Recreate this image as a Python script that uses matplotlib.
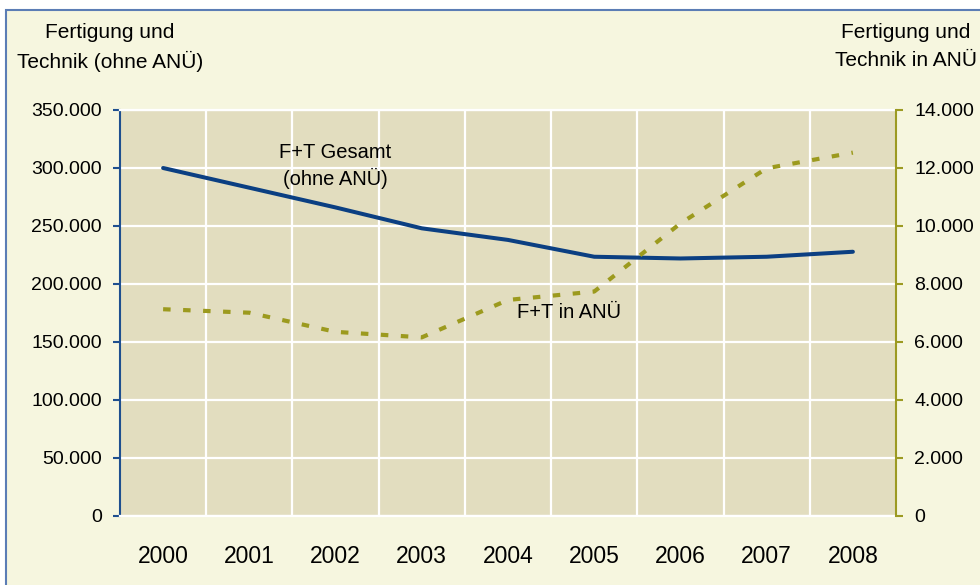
import matplotlib
matplotlib.use("Agg")
import matplotlib.pyplot as plt
from matplotlib.patches import Rectangle
from matplotlib.ticker import FuncFormatter, MultipleLocator
import numpy as np

plt.rcParams['font.family'] = ['Liberation Sans', 'DejaVu Sans']

years = ["2000", "2001", "2002", "2003", "2004", "2005", "2006", "2007", "2008"]
gesamt = [300000, 283000, 266000, 248000, 238000, 223500, 222000, 223500, 227800]
anue = [7130, 7010, 6350, 6160, 7450, 7740, 10090, 11990, 12530]

W, H = 980, 585
fig = plt.figure(figsize=(W / 100, H / 100), dpi=100)
fig.patch.set_facecolor("white")
bg = Rectangle((6 / W, -0.1), 2, (H - 10) / H + 0.1,
               transform=fig.transFigure, facecolor="#F6F6DF",
               edgecolor="#5B7DB5", linewidth=1.5, zorder=-10)
fig.add_artist(bg)

ax = fig.add_axes([120 / W, 1 - 516 / H, (896 - 120) / W, (516 - 110) / H])
ax.set_facecolor("#E2DDBF")
x = np.arange(len(years))

ax.set_xlim(-0.5, len(years) - 0.5)
ax.set_ylim(0, 350000)
ax.yaxis.set_major_locator(MultipleLocator(50000))
fmt = lambda v, p: f"{int(v):,}".replace(",", ".")
ax.yaxis.set_major_formatter(FuncFormatter(fmt))
ax.set_xticks(x)
ax.set_xticklabels(years, fontsize=16.5)
ax.set_xticks(np.arange(0.5, len(years) - 1, 1), minor=True)
ax.tick_params(axis="x", which="both", length=0, pad=21)
ax.tick_params(axis="y", length=5, width=1.5, color="#1E4F8F", pad=8, labelsize=14)
ax.grid(True, axis="y", which="major", color="white", linewidth=1.6)
ax.grid(True, axis="x", which="minor", color="white", linewidth=1.6)
ax.grid(False, axis="x", which="major")
ax.set_axisbelow(True)
for s in ["top", "bottom"]:
    ax.spines[s].set_visible(True)
    ax.spines[s].set_color("white")
    ax.spines[s].set_linewidth(1.6)
ax.spines["left"].set_color("#1E4F8F")
ax.spines["left"].set_linewidth(1.5)
ax.spines["right"].set_visible(False)

ax.plot(x, gesamt, color="#0B3F82", linewidth=2.9, solid_capstyle="round", zorder=3)

ax2 = ax.twinx()
ax2.set_ylim(0, 14000)
ax2.yaxis.set_major_locator(MultipleLocator(2000))
ax2.yaxis.set_major_formatter(FuncFormatter(fmt))
ax2.tick_params(axis="y", length=5, width=1.5, color="#9C9A22", pad=8, labelsize=14)
for s in ["top", "bottom", "left"]:
    ax2.spines[s].set_visible(False)
ax2.spines["right"].set_color("#9C9A22")
ax2.spines["right"].set_linewidth(1.5)
ax2.plot(x, anue, color="#9C9A1E", linewidth=3.0, dashes=(1.8, 3.0), zorder=3)

ax.text(2, 301700, "F+T Gesamt\n(ohne ANÜ)", ha="center", va="center",
        fontsize=14.5, linespacing=1.3, zorder=4)
ax.text(4.71, 175000, "F+T in ANÜ", ha="center", va="center", fontsize=14.5, zorder=4)

fig.text(110 / W, 1 - 33 / H, "Fertigung und", ha="center", va="center", fontsize=15)
fig.text(110 / W, 1 - 61 / H, "Technik (ohne ANÜ)", ha="center", va="center", fontsize=15)
fig.text(906 / W, 1 - 33 / H, "Fertigung und", ha="center", va="center", fontsize=15)
fig.text(906 / W, 1 - 61 / H, "Technik in ANÜ", ha="center", va="center", fontsize=15)

fig.savefig("out.png", dpi=100, facecolor=fig.get_facecolor())
